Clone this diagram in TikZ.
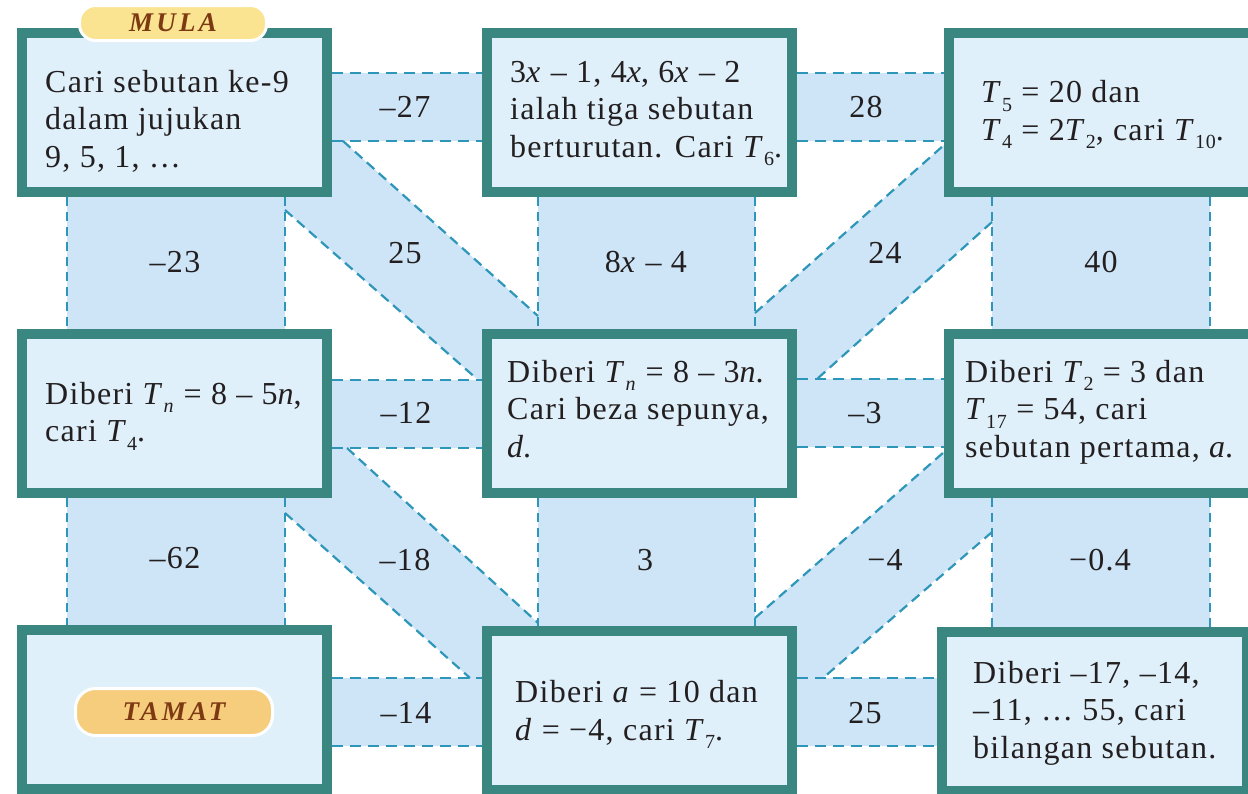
\documentclass[tikz,border=0pt]{standalone}
\usepackage{fontspec}
\setmainfont{Liberation Serif}[LetterSpace=4]
\newfontfamily\labfont{Liberation Serif}[LetterSpace=12]
\usetikzlibrary{shadows}
\definecolor{boxteal}{RGB}{58,134,128}
\definecolor{boxfill}{RGB}{223,240,250}
\definecolor{stripfill}{RGB}{205,229,247}
\definecolor{dashcol}{RGB}{46,150,185}
\definecolor{mulafill}{RGB}{250,228,145}
\definecolor{tamatfill}{RGB}{245,205,125}
\definecolor{labbrown}{RGB}{125,58,18}
\definecolor{txt}{RGB}{35,31,32}
\newcommand\sbs[1]{\raisebox{-8.5pt}{\fontsize{20}{20}\selectfont #1}}
\newcommand\iv[1]{\textit{#1}}
\begin{document}
\begin{tikzpicture}[x=1pt,y=-1pt,
 qbox/.style={draw=boxteal,line width=10pt,fill=boxfill,inner sep=0pt,minimum width=305pt,minimum height=159pt,
   drop shadow={shadow xshift=2pt,shadow yshift=-2pt,opacity=0.25}},
 qtext/.style={anchor=base west,align=left,inner sep=0pt,font=\fontsize{32}{37.5}\selectfont,text=txt},
 numlab/.style={inner sep=0pt,font=\fontsize{32}{37.5}\selectfont,text=txt},
 strip/.style={fill=stripfill},
 hdash/.style={draw=dashcol,line width=2.5pt,dash pattern=on 11pt off 7pt},
 vdash/.style={draw=dashcol,line width=1.8pt,dash pattern=on 9pt off 6pt},
 ddash/.style={draw=dashcol,line width=2.2pt,dash pattern=on 10pt off 6pt},
 tag/.style={draw=white,line width=3pt,inner sep=0pt,text=labbrown,
   font=\labfont\bfseries\itshape\fontsize{27}{27}\selectfont}
]
\useasboundingbox (0,0) rectangle (1248,793);
\clip (0,0) rectangle (1248,793);
\fill[white] (0,0) rectangle (1248,793);

% horizontal strips
\fill[strip] (330,73) rectangle (484,141);
\fill[strip] (795,73) rectangle (946,141);
\fill[strip] (330,380) rectangle (484,448);
\fill[strip] (795,379) rectangle (946,447);
\fill[strip] (330,678) rectangle (484,746);
\fill[strip] (795,678) rectangle (939,746);
% vertical strips
\fill[strip] (67,195) rectangle (285,331);
\fill[strip] (538,195) rectangle (755,331);
\fill[strip] (992,195) rectangle (1210,331);
\fill[strip] (67,496) rectangle (285,627);
\fill[strip] (538,496) rectangle (755,628);
\fill[strip] (992,495) rectangle (1210,629);
% diagonal strips
\fill[strip] (285,89) -- (545,322.3) -- (545,420) -- (500,399.2) -- (285,210) -- cycle;
\fill[strip] (745,321.9) -- (1000,95.2) -- (1000,214.8) -- (817,379) -- (790,403.2) -- cycle;
\fill[strip] (285,392.6) -- (545,629.3) -- (545,720) -- (500,704.8) -- (285,513) -- cycle;
\fill[strip] (745,626.8) -- (1000,402.8) -- (1000,523.3) -- (823,678) -- (790,706.8) -- cycle;

% boxes
\node[qbox] (A) at (174.5,112.5) {};
\node[qbox] (B) at (639.5,112.5) {};
\node[qbox] (C) at (1101.5,112.5) {};
\node[qbox] (D) at (174.5,413.5) {};
\node[qbox] (E) at (639.5,413.5) {};
\node[qbox] (F) at (1101.5,413) {};
\node[qbox] (G) at (174.5,709.5) {};
\node[qbox] (H) at (639.5,710.5) {};
\node[qbox] (I) at (1094.5,711.5) {};

% horizontal dashed edges
\draw[hdash] (A.east |- 0,73) -- (B.west |- 0,73);
\draw[hdash] (A.east |- 0,141) -- (B.west |- 0,141);
\draw[hdash] (B.east |- 0,73) -- (C.west |- 0,73);
\draw[hdash] (B.east |- 0,141) -- (C.west |- 0,141);
\draw[hdash] (D.east |- 0,380) -- (E.west |- 0,380);
\draw[hdash] (D.east |- 0,448) -- (E.west |- 0,448);
\draw[hdash] (E.east |- 0,379) -- (F.west |- 0,379);
\draw[hdash] (E.east |- 0,447) -- (F.west |- 0,447);
\draw[hdash] (G.east |- 0,678) -- (H.west |- 0,678);
\draw[hdash] (G.east |- 0,746) -- (H.west |- 0,746);
\draw[hdash] (H.east |- 0,678) -- (I.west |- 0,678);
\draw[hdash] (H.east |- 0,746) -- (I.west |- 0,746);
% vertical dashed edges
\draw[vdash] (A.south -| 67,0) -- (D.north -| 67,0);
\draw[vdash] (A.south -| 285,0) -- (D.north -| 285,0);
\draw[vdash] (B.south -| 538,0) -- (E.north -| 538,0);
\draw[vdash] (B.south -| 755,0) -- (E.north -| 755,0);
\draw[vdash] (C.south -| 992,0) -- (F.north -| 992,0);
\draw[vdash] (C.south -| 1210,0) -- (F.north -| 1210,0);
\draw[vdash] (D.south -| 67,0) -- (G.north -| 67,0);
\draw[vdash] (D.south -| 285,0) -- (G.north -| 285,0);
\draw[vdash] (E.south -| 538,0) -- (H.north -| 538,0);
\draw[vdash] (E.south -| 755,0) -- (H.north -| 755,0);
\draw[vdash] (F.south -| 992,0) -- (I.north -| 992,0);
\draw[vdash] (F.south -| 1210,0) -- (I.north -| 1210,0);
% diagonal dashed edges
\draw[ddash] (343,141) -- (538,316);
\draw[ddash] (285,210) -- (477,379);
\draw[ddash] (755,313) -- (944,145);
\draw[ddash] (992,222) -- (817,379);
\draw[ddash] (347,448) -- (538,623);
\draw[ddash] (285,513) -- (470,678);
\draw[ddash] (755,618) -- (944,452);
\draw[ddash] (992,532) -- (823,678);

% tags
\node[tag,fill=mulafill,rounded corners=16pt,minimum width=187pt,minimum height=35pt] (mula) at (173,23) {MULA};
\node[tag,fill=tamatfill,rounded corners=20pt,minimum width=197pt,minimum height=47pt] (tamat) at (174,712) {TAMAT};

% box texts (anchor = baseline of the last line)
\node[qtext] (tA) at (45,167) {Cari sebutan ke-9\\dalam jujukan\\9, 5, 1, …};
\node[qtext] (tB) at (510,157) {3\iv{x} – 1, 4\iv{x}, 6\iv{x} – 2\\ialah tiga sebutan\\berturutan. Cari \iv{T}\sbs{6}.};
\node[qtext] (tC) at (981,140) {\iv{T}\sbs{5} = 20 dan\\\iv{T}\sbs{4} = 2\iv{T}\sbs{2}, cari \iv{T}\sbs{10}.};
\node[qtext] (tD) at (45,441.5) {Diberi \iv{T}\sbs{\iv{n}} = 8 – 5\iv{n},\\cari \iv{T}\sbs{4}.};
\node[qtext] (tE) at (507,457) {Diberi \iv{T}\sbs{\iv{n}} = 8 – 3\iv{n}.\\Cari beza sepunya,\\\iv{d}.};
\node[qtext] (tF) at (965,457) {Diberi \iv{T}\sbs{2} = 3 dan\\\iv{T}\sbs{17} = 54, cari\\sebutan pertama, \iv{a}.};
\node[qtext] (tH) at (515,740) {Diberi \iv{a} = 10 dan\\\iv{d} = −4, cari \iv{T}\sbs{7}.};
\node[qtext] (tI) at (973,758) {Diberi –17, –14,\\–11, … 55, cari\\bilangan sebutan.};

% strip labels
\node[numlab] (l1) at (405,107) {–27};
\node[numlab] (l2) at (866,107) {28};
\node[numlab] (l3) at (175,262) {–23};
\node[numlab] (l4) at (405,253) {25};
\node[numlab] (l5) at (646,262) {8\iv{x} – 4};
\node[numlab] (l6) at (885,253) {24};
\node[numlab] (l7) at (1101,262) {40};
\node[numlab] (l8) at (406,413) {–12};
\node[numlab] (l9) at (865,413) {–3};
\node[numlab] (l10) at (175,558) {–62};
\node[numlab] (l11) at (405,560) {–18};
\node[numlab] (l12) at (645,560) {3};
\node[numlab] (l13) at (885,560) {−4};
\node[numlab] (l14) at (1100,560) {−0.4};
\node[numlab] (l15) at (406,713) {–14};
\node[numlab] (l16) at (865,713) {25};
\end{tikzpicture}
\end{document}
